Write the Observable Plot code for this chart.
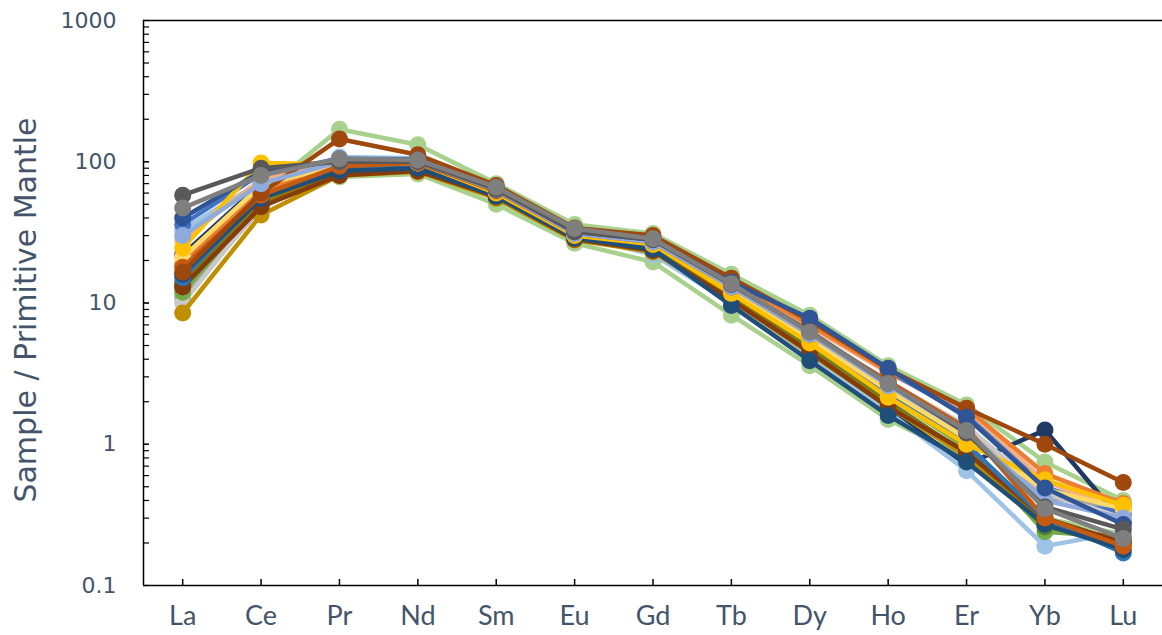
<!DOCTYPE html>
<html>
<head>
<meta charset="utf-8">
<script src="https://cdn.jsdelivr.net/npm/d3@7"></script>
<script src="https://cdn.jsdelivr.net/npm/@observablehq/plot@0.6"></script>
<style>
  html, body { margin: 0; padding: 0; background: #fff; }
</style>
</head>
<body>
<div id="chart"></div>
<script>
const elements = ["La","Ce","Pr","Nd","Sm","Eu","Gd","Tb","Dy","Ho","Er","Yb","Lu"];

const seriesNames = ["S1","S2","S22","S3","S4","S5","S6","S7","S8","S9","S10","S11","S12","S13","S14","S15","S16","S17","S18","S19","S20","S21","S23","S24"];
const seriesColors = ["#A9D18E","#A9D18E","#1F3864","#9DC3E6","#F4B183","#4472C4","#A5A5A5","#C9C9C9","#70AD47","#548235","#BF8F00","#997300","#843C0C","#ED7D31","#2E75B6","#1F4E79","#FFD966","#FFC000","#C55A11","#9E480E","#8FAADC","#2F5597","#595959","#7F7F7F"];

const s1  = [12, 60, 170, 132, 70, 36, 31, 16, 8.2, 3.6, 1.9, 0.75, 0.40];
const s2  = [13, 52, 78, 82, 50, 26.5, 19.5, 8.2, 3.6, 1.5, 0.8, 0.30, 0.23];
const s22 = [22, 70, 94, 96, 59, 29, 24, 10.5, 4.2, 1.75, 0.72, 1.26, 0.28];
const s3  = [33, 72, 108, 106, 62, 30, 22, 10, 4.2, 1.7, 0.65, 0.19, 0.24];
const s4  = [28, 75, 100, 100, 64, 32, 28, 14, 6.8, 3.2, 1.7, 0.55, 0.33];
const s5  = [36, 82, 105, 104, 66, 33, 29, 14.5, 7.2, 3.3, 1.6, 0.5, 0.32];
const s6  = [10.8, 47, 90, 95, 60, 30, 26, 12.5, 6, 2.7, 1.3, 0.42, 0.36];
const s7  = [10, 49, 92, 96, 61, 31, 27, 13, 6.3, 2.8, 1.35, 0.45, 0.30];
const s8  = [11.9, 52, 88, 92, 58, 29, 25, 12, 5.3, 2.2, 0.95, 0.24, 0.22];
const s9  = [14, 55, 90, 93, 59, 30, 25, 11.5, 5, 2.0, 0.85, 0.26, 0.21];
const s10 = [8.5, 42, 80, 85, 55, 28, 23, 10.5, 4.4, 1.85, 0.82, 0.27, 0.20];
const s11 = [13.3, 50, 84, 88, 56, 28, 23.5, 10.8, 4.6, 1.9, 0.88, 0.28, 0.21];
const s12 = [13, 48, 80, 86, 57, 28.5, 23.5, 10.5, 4.5, 1.84, 0.88, 0.30, 0.20];
const s13 = [19, 62, 98, 102, 65, 33, 29, 14.5, 7, 3.3, 1.8, 0.62, 0.38];
const s14 = [15.1, 56, 92, 95, 60, 30, 26, 12, 5.5, 2.3, 1.0, 0.30, 0.17];
const s15 = [16, 55, 86, 90, 57, 29, 24, 9.6, 3.9, 1.6, 0.75, 0.27, 0.18];
const s16 = [21, 68, 95, 98, 61, 31, 27, 12.5, 5.6, 2.4, 1.1, 0.48, 0.35];
const s17 = [24.5, 98, 96, 98, 60, 30, 26, 11.7, 5.2, 2.15, 1.0, 0.56, 0.37];
const s18 = [17.9, 58, 93, 98, 62, 31, 27, 13, 6, 2.8, 1.3, 0.30, 0.19];
const s19 = [16.5, 60, 145, 112, 68, 34, 30, 15, 7.5, 3.4, 1.8, 1.0, 0.536];
const s20 = [30, 70, 100, 100, 63, 31, 27, 13, 6, 2.6, 1.2, 0.40, 0.30];
const s21 = [40, 85, 102, 103, 64, 32, 28, 14, 7.8, 3.45, 1.55, 0.49, 0.27];
const s23 = [58, 90, 100, 100, 64, 32, 28, 13.5, 6.3, 2.7, 1.2, 0.36, 0.25];
const s24 = [47, 80, 105, 103, 66, 33.7, 28.5, 13.7, 6.2, 2.69, 1.25, 0.35, 0.215];
const seriesValues = [s1,s2,s22,s3,s4,s5,s6,s7,s8,s9,s10,s11,s12,s13,s14,s15,s16,s17,s18,s19,s20,s21,s23,s24];

const yTickLabels = [0.1, 1, 10, 100, 1000];
const yMinorTicks = [];
for (const base of [0.1, 1, 10, 100]) for (let k = 1; k <= 10; k++) yMinorTicks.push(+(base * k).toPrecision(3));

const rows = seriesValues.flatMap((vals, s) =>
  vals.map((v, i) => ({series: seriesNames[s], idx: i, value: v})));

const textColor = "#44546A";

const seriesMarks = seriesNames.flatMap(name => {
  const d = rows.filter(r => r.series === name);
  return [
    Plot.line(d, {x: "idx", y: "value", stroke: "series", strokeWidth: 4.5}),
    Plot.dot(d, {x: "idx", y: "value", fill: "series", r: 8.5, stroke: "none"})
  ];
});

const chart = Plot.plot({
  width: 1162,
  height: 635,
  marginLeft: 143,
  marginRight: 0,
  marginTop: 20,
  marginBottom: 50,
  style: {background: "#fff", fontFamily: "DejaVu Sans"},
  x: {domain: [-0.5, elements.length - 0.5], axis: null, label: null},
  y: {type: "log", domain: [0.1, 1000], axis: null, label: null},
  color: {domain: seriesNames, range: seriesColors},
  marks: [
    ...seriesMarks,
    Plot.ruleY([1000], {stroke: "#000", strokeWidth: 1.5}),
    Plot.ruleY([0.1], {stroke: "#000", strokeWidth: 1.5}),
    Plot.ruleX([-0.5], {stroke: "#000", strokeWidth: 1.5}),
    Plot.axisY({ticks: yMinorTicks, tickSize: -6, tickFormat: () => "", label: null, stroke: "#000", strokeWidth: 1.2}),
    Plot.axisY({ticks: yTickLabels, tickSize: 0, tickPadding: 27, tickFormat: d => String(d), label: null,
      fontSize: 22, fontFamily: "DejaVu Sans", color: textColor}),
    Plot.axisX({ticks: d3.range(elements.length), tickSize: -6, tickFormat: () => "", label: null, stroke: "#000", strokeWidth: 1.5}),
    Plot.axisX({ticks: d3.range(elements.length), tickSize: 0, tickPadding: 20, tickFormat: i => elements[i], label: null,
      fontSize: 27, fontFamily: "Lato", color: textColor}),
    Plot.text(["Sample / Primitive Mantle"], {text: d => d, frameAnchor: "left", textAnchor: "middle", lineAnchor: "middle",
      rotate: -90, dx: -117, dy: 7, fontSize: 30, fontFamily: "DejaVu Sans", fill: textColor})
  ]
});

document.getElementById("chart").appendChild(chart);
</script>
</body>
</html>
